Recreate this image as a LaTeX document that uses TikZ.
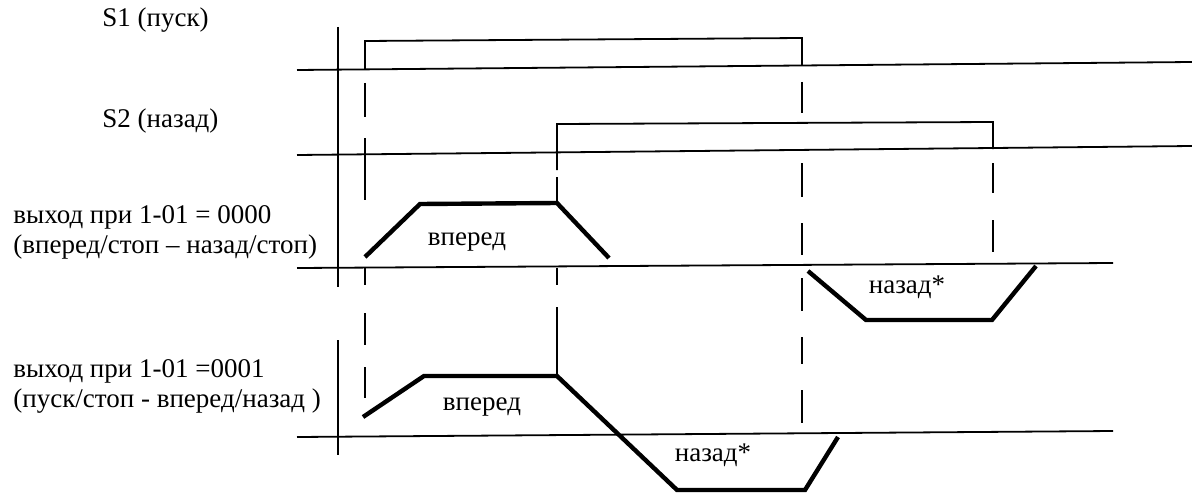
\documentclass[tikz,border=0pt]{standalone}
\usepackage{fontspec}
\setmainfont{Liberation Serif}
\usepackage{tikz}

\tikzset{
    sigline/.style={line width=0.9pt},
    ramp/.style={line width=2.2pt},
    guide/.style={line width=0.9pt},
    lbl/.style={inner sep=0pt, font=\fontsize{13.5}{15}\selectfont}
}

\begin{document}
\begin{tikzpicture}[x=0.5pt,y=-0.5pt]
    \useasboundingbox (0,0) rectangle (1192,492);
    \draw[sigline] (338,27) -- (338,287);
    \draw[sigline] (338,340) -- (338,455);

    \draw[sigline] (297,70) -- (1192,62);
    \draw[sigline] (365,69) -- (365,41) -- (802,38) -- (802,65);
    \draw[sigline] (297,155) -- (1192,146);
    \draw[sigline] (557,170) -- (557,124) -- (993,122) -- (993,149);
    \draw[sigline] (297,268) -- (1113,263);
    \draw[sigline] (297,437) -- (1113,431);

    \draw[ramp] (365,257) -- (420,204) -- (557,203) -- (609,258);
    \draw[ramp] (808,271) -- (866,320) -- (992,320) -- (1036,266);
    \draw[ramp] (363,417) -- (424,376) -- (557,376) -- (677,490)
        -- (805,490) -- (838,437);

    \foreach \x/\a/\b in {365/83/117, 365/138/200, 365/268/285, 365/313/345,
        365/367/398, 557/177/203, 557/268/285, 557/307/375, 802/82/113,
        802/163/197, 802/223/255, 802/278/311, 802/337/364, 802/390/423,
        993/163/193, 993/220/252}
        \draw[guide] (\x,\a) -- (\x,\b);

    \node[lbl, anchor=base west] (s1) at (102,27) {S1 (пуск)};
    \node[lbl, anchor=base west] (s2) at (102,127) {S2 (назад)};
    \node[lbl, anchor=north west, align=left] (out1) at (13,205)
        {выход при 1-01 = 0000\\(вперед/стоп – назад/стоп)};
    \node[lbl, anchor=north west, align=left] (out2) at (13,359)
        {выход при 1-01 =0001\\(пуск/стоп - вперед/назад )};
    \node[lbl] (fwd1) at (467,242) {вперед};
    \node[lbl] (fwd2) at (482,407) {вперед};
    \node[lbl] (rev1) at (907,287) {назад*};
    \node[lbl] (rev2) at (713,455) {назад*};
\end{tikzpicture}
\end{document}
